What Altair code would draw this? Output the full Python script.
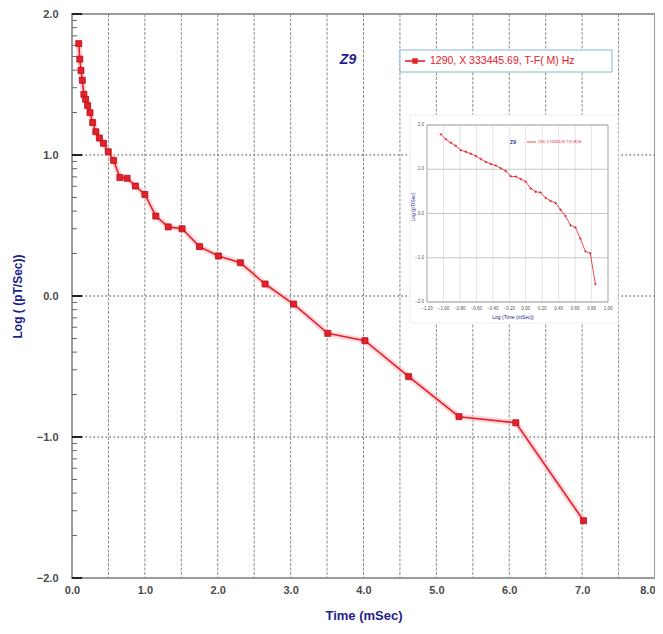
import math
import altair as alt
import pandas as pd

# ---------------- data ----------------
time_ms = [0.093, 0.107, 0.123, 0.141, 0.163, 0.187, 0.215, 0.247, 0.284, 0.327,
           0.376, 0.432, 0.497, 0.571, 0.657, 0.756, 0.870, 1.000, 1.150, 1.320,
           1.510, 1.750, 2.010, 2.310, 2.650, 3.040, 3.510, 4.020, 4.620, 5.310,
           6.090, 7.020]
log_rate = [1.79, 1.68, 1.60, 1.53, 1.43, 1.395, 1.35, 1.30, 1.23, 1.165,
            1.12, 1.083, 1.023, 0.962, 0.840, 0.835, 0.780, 0.720, 0.567, 0.490,
            0.477, 0.350, 0.284, 0.236, 0.085, -0.057, -0.265, -0.317, -0.572, -0.856,
            -0.899, -1.594]

x_tick_values = [0, 1, 2, 3, 4, 5, 6, 7, 8]
y_tick_values = [-2, -1, 0, 1, 2]
x_grid_values = [0.5, 1.0, 1.5, 2.0, 2.5, 3.0, 3.5, 4.0, 4.5, 5.0, 5.5, 6.0, 6.5, 7.0, 7.5]
y_grid_values = [-1, 0, 1]
minor_y_ticks = [n + math.log10(k) for n in (-2, -1, 0, 1) for k in range(2, 10)]

inset_x_ticks = [-1.2, -1.0, -0.8, -0.6, -0.4, -0.2, 0.0, 0.2, 0.4, 0.6, 0.8, 1.0]
inset_y_ticks = [-2, -1, 0, 1, 2]

chart_title = "Z9"
legend_label = "1290, X 333445.69, T-F( M) Hz"
x_title = "Time (mSec)"
y_title = "Log ( (pT/Sec))"
inset_x_title = "Log (Time (mSec))"
inset_y_title = "Log (pT/Sec)"

# ---------------- styles ----------------
FONT = "Liberation Sans"
RED = "#e5202a"
NAVY = "#1e1e8c"

df = pd.DataFrame({"t": time_ms, "v": log_rate})
one = pd.DataFrame({"k": [0]})

XS = alt.Scale(domain=[0, 8], nice=False, zero=False)
YS = alt.Scale(domain=[-2, 2], nice=False, zero=False)

ax_x = alt.Axis(values=x_tick_values, format=".1f", grid=False, ticks=False, domain=False,
                labelFlush=False, labelOverlap=False, labelPadding=6,
                labelAlign={"condition": {"test": "datum.value >= 8", "value": "right"},
                            "value": "center"},
                labelFont=FONT, labelFontSize=11, labelFontWeight="bold", labelColor="#4a4a4a",
                title=x_title, titleFont=FONT, titleFontSize=13, titleFontWeight="bold",
                titleColor=NAVY, titlePadding=14)
ax_y = alt.Axis(values=y_tick_values, format=".1f", grid=False, ticks=False, domain=False,
                labelFlush=False, labelOverlap=False, labelPadding=14,
                labelFont=FONT, labelFontSize=11, labelFontWeight="bold", labelColor="#4a4a4a",
                title=y_title, titleFont=FONT, titleFontSize=12, titleFontWeight="bold",
                titleColor=NAVY, titlePadding=12)

vgrid = alt.Chart(pd.DataFrame({"gx": x_grid_values})).mark_rule(
    color="#8c8c8c", strokeWidth=1, strokeDash=[3, 1.5]
).encode(x=alt.X("gx:Q", scale=XS, axis=ax_x))

hgrid = alt.Chart(pd.DataFrame({"gy": y_grid_values})).mark_rule(
    color="#7a7a7a", strokeWidth=1.3, strokeDash=[1.5, 2.5]
).encode(y=alt.Y("gy:Q", scale=YS, axis=ax_y))

minor = alt.Chart(pd.DataFrame({"my": minor_y_ticks})).mark_rule(
    color="#666666", strokeWidth=1
).encode(y=alt.Y("my:Q", scale=YS, axis=ax_y), x=alt.value(0), x2=alt.value(5))

major = alt.Chart(pd.DataFrame({"My": y_tick_values})).mark_rule(
    color="#222222", strokeWidth=2
).encode(y=alt.Y("My:Q", scale=YS, axis=ax_y), x=alt.value(0), x2=alt.value(10))

halo = alt.Chart(df).mark_line(color="#ffc2c6", strokeWidth=6, opacity=0.6).encode(
    x=alt.X("t:Q", scale=XS, axis=ax_x), y=alt.Y("v:Q", scale=YS, axis=ax_y))
line = alt.Chart(df).mark_line(color=RED, strokeWidth=1.6).encode(
    x=alt.X("t:Q", scale=XS, axis=ax_x), y=alt.Y("v:Q", scale=YS, axis=ax_y))
pts = alt.Chart(df).mark_point(shape="square", filled=True, size=36, color=RED,
                               stroke="#b3121b", strokeWidth=0.8, opacity=1).encode(
    x=alt.X("t:Q", scale=XS, axis=ax_x), y=alt.Y("v:Q", scale=YS, axis=ax_y))

title_txt = alt.Chart(one).mark_text(
    text=chart_title, font=FONT, fontSize=14, fontWeight="bold", fontStyle="italic",
    color=NAVY, align="center", baseline="middle"
).encode(x=alt.value(276), y=alt.value(46))

leg_box = alt.Chart(one).mark_rect(fill="white", stroke="#86b8d8", strokeWidth=1).encode(
    x=alt.value(328), x2=alt.value(540), y=alt.value(36), y2=alt.value(58))
leg_line = alt.Chart(one).mark_rule(color=RED, strokeWidth=1.6).encode(
    x=alt.value(333), x2=alt.value(353), y=alt.value(47))
leg_pt = alt.Chart(one).mark_point(shape="square", filled=True, size=30, color=RED,
                                   opacity=1).encode(x=alt.value(343), y=alt.value(47))
leg_txt = alt.Chart(one).mark_text(
    text=legend_label, font=FONT, fontSize=10.5, color=RED, align="left", baseline="middle"
).encode(x=alt.value(358), y=alt.value(47))

main = alt.layer(vgrid, hgrid, minor, major, halo, line, pts, title_txt,
                 leg_box, leg_line, leg_pt, leg_txt)

# ---------------- inset ----------------
IX = alt.Scale(domain=[min(inset_x_ticks), max(inset_x_ticks)], range=[355, 536], nice=False, zero=False)
IY = alt.Scale(domain=[min(inset_y_ticks), max(inset_y_ticks)], range=[288, 111], nice=False, zero=False)

inset_bg = alt.Chart(one).mark_rect(fill="white", stroke="#eeeeee", strokeWidth=1).encode(
    x=alt.value(338), x2=alt.value(546), y=alt.value(101), y2=alt.value(309))

vg_df = pd.DataFrame({"ix": inset_x_ticks, "y0": min(inset_y_ticks), "y1": max(inset_y_ticks)})
hg_df = pd.DataFrame({"iy": inset_y_ticks, "x0": min(inset_x_ticks), "x1": max(inset_x_ticks)})

inset_vgrid = alt.Chart(vg_df).mark_rule(color="#dcdcdc", strokeWidth=0.8).encode(
    x=alt.X("ix:Q", scale=IX, axis=None),
    y=alt.Y("y0:Q", scale=IY, axis=None), y2="y1:Q")
inset_hgrid = alt.Chart(hg_df).mark_rule(color="#b8b8b8", strokeWidth=0.8).encode(
    y=alt.Y("iy:Q", scale=IY, axis=None),
    x=alt.X("x0:Q", scale=IX, axis=None), x2="x1:Q")
frame_df = pd.DataFrame({"x0": [min(inset_x_ticks)], "x1": [max(inset_x_ticks)],
                         "y0": [min(inset_y_ticks)], "y1": [max(inset_y_ticks)]})
inset_frame = alt.Chart(frame_df).mark_rect(fill="white", fillOpacity=0, stroke="#b0b0b0",
                                             strokeWidth=1).encode(
    x=alt.X("x0:Q", scale=IX, axis=None), x2="x1:Q",
    y=alt.Y("y0:Q", scale=IY, axis=None), y2="y1:Q")

inset_xlab = alt.Chart(vg_df).mark_text(font=FONT, fontSize=4.5, color="#555555",
                                         baseline="top", dy=4).encode(
    x=alt.X("ix:Q", scale=IX, axis=None), y=alt.Y("y0:Q", scale=IY, axis=None),
    text=alt.Text("ix:Q", format=".2f"))
inset_ylab = alt.Chart(hg_df).mark_text(font=FONT, fontSize=4.5, color="#555555",
                                         align="right", baseline="middle", dx=-3).encode(
    x=alt.X("x0:Q", scale=IX, axis=None), y=alt.Y("iy:Q", scale=IY, axis=None),
    text=alt.Text("iy:Q", format=".1f"))

inset_line = alt.Chart(df).transform_calculate(lx="log(datum.t) / LN10").mark_line(
    color=RED, strokeWidth=0.8).encode(
    x=alt.X("lx:Q", scale=IX, axis=None), y=alt.Y("v:Q", scale=IY, axis=None))
inset_pts = alt.Chart(df).transform_calculate(lx="log(datum.t) / LN10").mark_point(
    shape="cross", filled=True, size=6, color=RED, opacity=0.9).encode(
    x=alt.X("lx:Q", scale=IX, axis=None), y=alt.Y("v:Q", scale=IY, axis=None))

inset_xt = alt.Chart(one).mark_text(text=inset_x_title, font=FONT, fontSize=5, color=NAVY,
                                     align="center", baseline="middle").encode(
    x=alt.value(441), y=alt.value(303))
inset_yt = alt.Chart(one).mark_text(text=inset_y_title, font=FONT, fontSize=5, color=NAVY,
                                     align="center", baseline="middle", angle=270).encode(
    x=alt.value(341), y=alt.value(193))
inset_leg_t = alt.Chart(one).mark_text(text=chart_title, font=FONT, fontSize=5, fontWeight="bold",
                                        color=NAVY, align="center", baseline="middle").encode(
    x=alt.value(441), y=alt.value(128))
inset_leg_l = alt.Chart(one).mark_rule(color=RED, strokeWidth=0.8).encode(
    x=alt.value(455), x2=alt.value(464), y=alt.value(128))
inset_leg_x = alt.Chart(one).mark_text(text=legend_label, font=FONT, fontSize=3.2, color=RED,
                                        align="left", baseline="middle").encode(
    x=alt.value(466), y=alt.value(128))

inset = alt.layer(inset_bg, inset_vgrid, inset_hgrid, inset_frame, inset_xlab, inset_ylab,
                  inset_line, inset_pts, inset_xt, inset_yt, inset_leg_t, inset_leg_l,
                  inset_leg_x)

chart = alt.layer(main, inset).resolve_scale(
    x="independent", y="independent"
).properties(
    width=583, height=564,
    padding={"left": 64, "top": 6, "right": 0, "bottom": 48},
    autosize=alt.AutoSizeParams(type="none"),
    background="white",
).configure_view(stroke="#9a9a9a", strokeWidth=2)

chart.save("out.html", embed_options={"renderer": "svg", "actions": False})
